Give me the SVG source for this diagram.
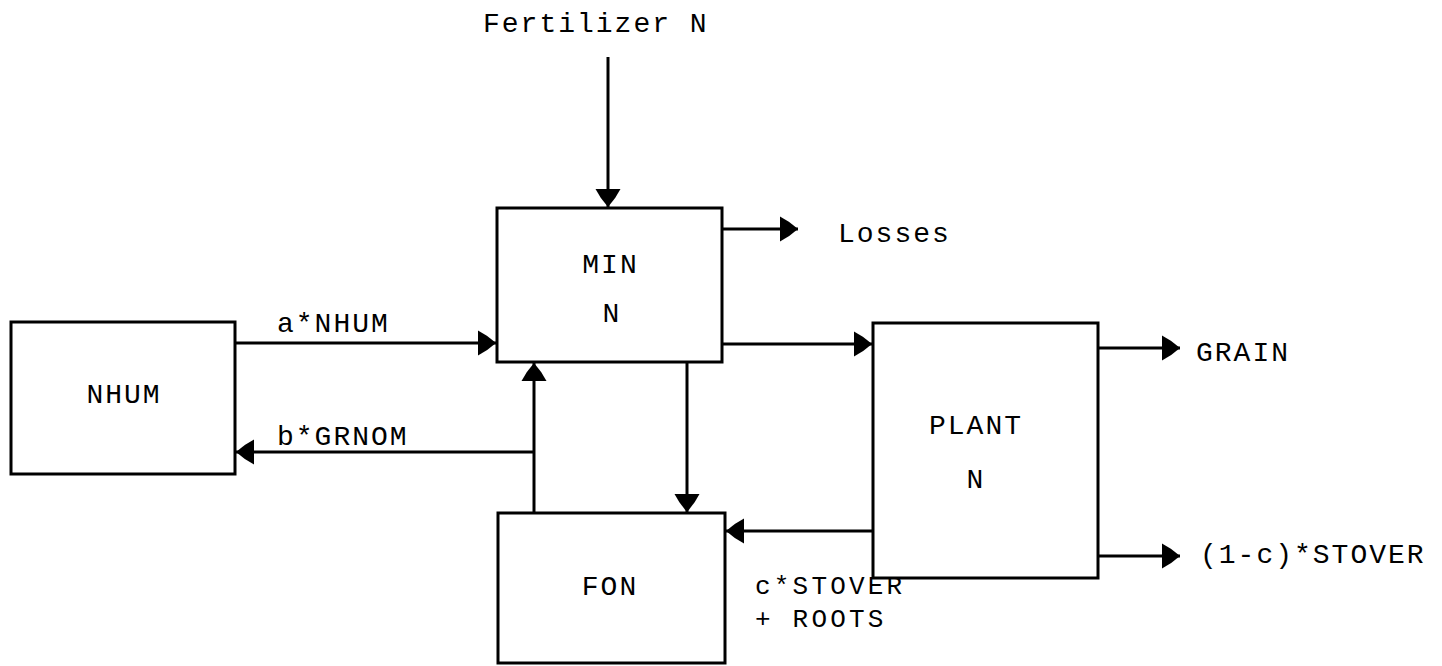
<svg xmlns="http://www.w3.org/2000/svg" width="1442" height="666" viewBox="0 0 1442 666">
<style>
.box{fill:#fff;stroke:#000;stroke-width:3}
.ln{fill:none;stroke:#000;stroke-width:3;marker-end:url(#ah)}
text{font-family:"Liberation Mono","DejaVu Sans Mono",monospace;font-size:28px;letter-spacing:2px;fill:#000}
.c{text-anchor:middle}
.sm{font-size:26px;letter-spacing:3.2px}
</style>
<defs>
<marker id="ah" markerUnits="userSpaceOnUse" viewBox="0 0 19 26" markerWidth="19" markerHeight="26" refX="18" refY="13" orient="auto">
<path d="M0,0.5 Q9,5 18,13 Q9,21 0,25.5 Z" fill="#000"/>
</marker>
</defs>
<rect width="1442" height="666" fill="#fff"/>
<g id="connectors">
<path class="ln" d="M608,57 V207"/>
<path class="ln" d="M722,229 H798"/>
<path class="ln" d="M235,343 H496"/>
<path class="ln" d="M722,344 H872"/>
<path class="ln" d="M1098,348 H1180"/>
<path class="ln" d="M1098,556 H1180"/>
<path class="ln" d="M873,531 H726"/>
<path class="ln" d="M687,362 V512"/>
<path class="ln" d="M534,513 V363"/>
<path class="ln" d="M534,452 H236"/>
<text x="483" y="32">Fertilizer N</text>
<text x="838" y="242">Losses</text>
<text x="277" y="332">a*NHUM</text>
<text x="277" y="445">b*GRNOM</text>
<text x="1196" y="361">GRAIN</text>
<text x="1200" y="563">(1-c)*STOVER</text>
<text class="sm" x="755" y="594">c*STOVER</text>
<text class="sm" x="755" y="627">+ ROOTS</text>
</g>
<g id="NHUM">
<rect class="box" x="11" y="322" width="224" height="152"/>
<text class="c" x="124" y="403">NHUM</text>
</g>
<g id="MIN">
<rect class="box" x="497" y="208" width="225" height="154"/>
<text class="c" x="610.5" y="273">MIN</text>
<text class="c" x="612" y="322">N</text>
</g>
<g id="PLANT">
<rect class="box" x="873" y="323" width="225" height="255"/>
<text class="c" x="976" y="434">PLANT</text>
<text class="c" x="976" y="488">N</text>
</g>
<g id="FON">
<rect class="box" x="498" y="513" width="227" height="150"/>
<text class="c" x="610" y="595">FON</text>
</g>
</svg>
